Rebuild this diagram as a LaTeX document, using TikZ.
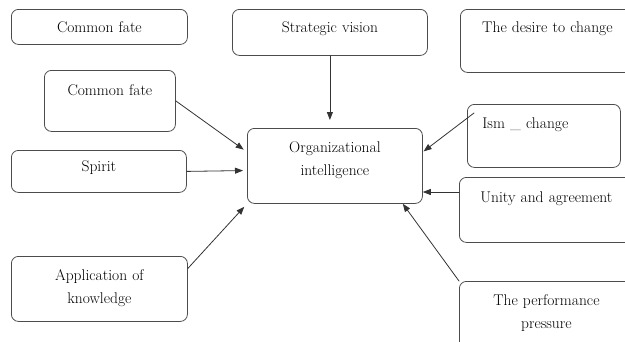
\documentclass[tikz,border=0pt]{standalone}
\usetikzlibrary{arrows.meta}
\begin{document}
\begin{tikzpicture}[x=1pt,y=-1pt,line cap=round,line join=round,>={Triangle[length=8pt,width=6pt]},
    box/.style={draw=black!70,line width=0.8pt,rounded corners=7pt,anchor=north west,
      inner xsep=0pt,inner ysep=0pt,align=center,font=\fontsize{15.5}{23}\selectfont},
    link/.style={->,draw=black!80,line width=0.8pt}]
    \useasboundingbox (0,0) rectangle (625,341);
    \clip (0,0) rectangle (625,341);
    % left column
    \node[box,text width=176pt,text height=23pt,text depth=12pt] (fate) at (11,9) {Common fate};
    \node[box,text width=131pt,text height=25pt,text depth=36pt] (fatetwo) at (44,70) {Common fate};
    \node[box,text width=175pt,text height=21pt,text depth=21pt] (spirit) at (11,150) {Spirit};
    \node[box,text width=176pt,text height=24pt,text depth=41pt] (know) at (11,256) {Application of\\knowledge};
    % middle
    \node[box,text width=195pt,text height=23pt,text depth=23pt] (vision) at (232,9) {Strategic vision};
    \node[box,text width=175pt,text height=24pt,text depth=51pt] (oi) at (247,128) {Organizational\\intelligence};
    % right column
    \node[box,text width=174pt,text height=23pt,text depth=40pt] (desire) at (460,9) {The desire to change};
    \node[box,align=left,inner xsep=15pt,text width=123pt,text height=24pt,text depth=39pt] (ism) at (467,104) {Ism \_ change};
    \node[box,text width=174pt,text height=25pt,text depth=40pt] (unity) at (459,177) {Unity and agreement};
    \node[box,text width=174pt,text height=24pt,text depth=46pt] (perf) at (459,281) {The performance\\pressure};
    % arrows
    \draw[link,shorten >=8pt] (vision.south) -- (vision.south |- oi.north);
    \draw[link,shorten >=4pt] (fatetwo.east) -- (oi.171);
    \draw[link,shorten >=4pt] (spirit.east) -- (oi.183);
    \draw[link,shorten >=4pt] (know.13) -- (oi.south west);
    \draw[link,shorten >=1pt] ([xshift=7pt,yshift=-9pt]ism.north west) -- (oi.9);
    \draw[link] ([yshift=-15pt]unity.north west) coordinate (u) -- (u -| oi.east);
    \draw[link] (perf.north west) -- ([xshift=-20pt]oi.south east);
\end{tikzpicture}
\end{document}
